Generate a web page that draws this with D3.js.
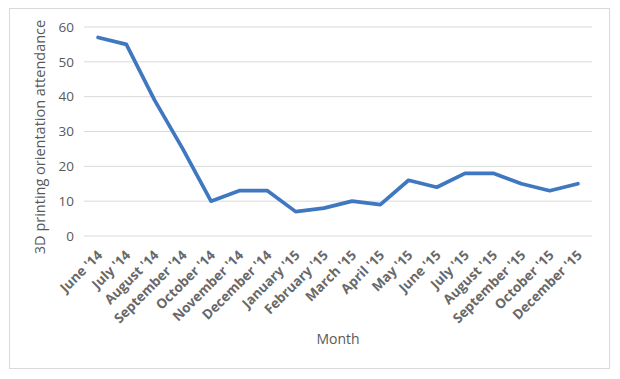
<!DOCTYPE html>
<html><head><meta charset="utf-8">
<script src="https://cdn.jsdelivr.net/npm/d3@7"></script>
<style>body{margin:0;background:#fff;}svg{display:block;}</style>
</head><body>
<script>
const months = ["June '14","July '14","August '14","September '14","October '14","November '14","December '14","January '15","February '15","March '15","April '15","May '15","June '15","July '15","August '15","September '15","October '15","December '15"];
const attendance = [57,55,39,25,10,13,13,7,8,10,9,16,14,18,18,15,13,15];
const yTicks = [0,10,20,30,40,50,60];

const W=620,H=379;
const svg=d3.select("body").append("svg").attr("width",W).attr("height",H);
svg.append("rect").attr("x",9.5).attr("y",8.5).attr("width",600).attr("height",360)
  .attr("fill","#fff").attr("stroke","#d9d9d9");

const x=d3.scaleBand().domain(months).range([84,592]);
const y=d3.scaleLinear().domain([0,60]).range([236,27]);

const grid=svg.append("g");
grid.selectAll("line").data(yTicks).join("line")
  .attr("x1",84).attr("x2",592).attr("y1",d=>y(d)).attr("y2",d=>y(d))
  .attr("stroke","#d9d9d9").attr("stroke-width",1);

const yAxis=svg.append("g").attr("transform","translate(84,0)")
  .call(d3.axisLeft(y).tickValues(yTicks).tickSize(0).tickPadding(10));
yAxis.select(".domain").remove();
yAxis.selectAll("text").attr("font-family","'Open Sans',sans-serif").attr("font-size",13.5).attr("fill","#595959");

const xAxis=svg.append("g").attr("transform","translate(0,236)")
  .call(d3.axisBottom(x).tickSize(0).tickPadding(0));
xAxis.select(".domain").remove();
xAxis.selectAll("text")
  .attr("font-family","'Open Sans',sans-serif").attr("font-size",13.5).attr("font-weight","bold").attr("fill","#686868")
  .attr("text-anchor","end").attr("dy",0)
  .attr("transform","translate(5,20) rotate(-45)");

const line=d3.line().x((d,i)=>x(months[i])+x.bandwidth()/2).y(d=>y(d));
svg.append("path").datum(attendance).attr("d",line)
  .attr("fill","none").attr("stroke","#3f77c1").attr("stroke-width",3.7)
  .attr("stroke-linejoin","round").attr("stroke-linecap","round");

svg.append("text").attr("transform","translate(45,137) rotate(-90)")
  .attr("text-anchor","middle").attr("font-family","'Open Sans',sans-serif").attr("font-size",14.5).attr("fill","#595959")
  .text("3D printing orientation attendance");
svg.append("text").attr("x",338).attr("y",344).attr("text-anchor","middle")
  .attr("font-family","'Open Sans',sans-serif").attr("font-size",14).attr("fill","#595959").text("Month");
</script>
</body></html>
